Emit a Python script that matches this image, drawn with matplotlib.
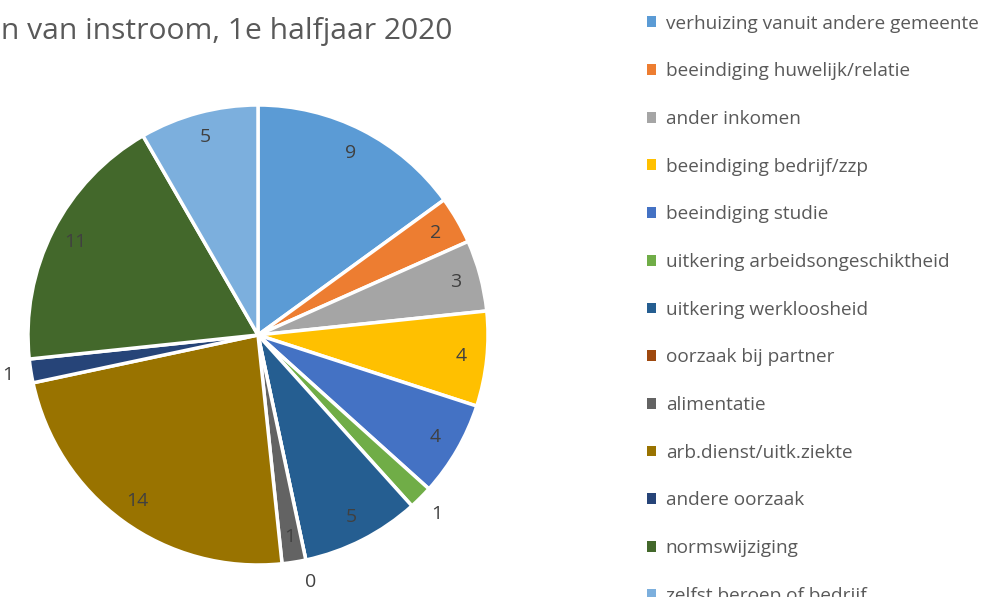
import numpy as np
import matplotlib
matplotlib.use("Agg")
import matplotlib.pyplot as plt
from matplotlib.patches import Patch

categories = [
    "verhuizing vanuit andere gemeente",
    "beeindiging huwelijk/relatie",
    "ander inkomen",
    "beeindiging bedrijf/zzp",
    "beeindiging studie",
    "uitkering arbeidsongeschiktheid",
    "uitkering werkloosheid",
    "oorzaak bij partner",
    "alimentatie",
    "arb.dienst/uitk.ziekte",
    "andere oorzaak",
    "normswijziging",
    "zelfst beroep of bedrijf",
]
values = [9, 2, 3, 4, 4, 1, 5, 0, 1, 14, 1, 11, 5]
colors = ["#5B9BD5", "#ED7D31", "#A5A5A5", "#FFC000", "#4472C4", "#70AD47",
          "#255E91", "#9E480E", "#636363", "#997300", "#264478", "#43682B",
          "#7CAFDD"]
outside = [False, False, False, False, False, True,
           False, True, False, False, True, False, False]
title = "Redenen van instroom, 1e halfjaar 2020"

plt.rcParams['font.family'] = ['Open Sans', 'DejaVu Sans']
W, H = 996, 597
fig = plt.figure(figsize=(W / 100, H / 100), dpi=100)
cx, cy, R = 258, 335, 230
ax = fig.add_axes([(cx - R) / W, (H - cy - R) / H, 2 * R / W, 2 * R / H])
wedges, _ = ax.pie(values, colors=colors, startangle=90, counterclock=False,
                   radius=1.0,
                   wedgeprops=dict(edgecolor="white", linewidth=2.5))
ax.set_xlim(-1, 1)
ax.set_ylim(-1, 1)
ax.set_aspect("equal")
ax.axis("off")

for w, v, out in zip(wedges, values, outside):
    ang = np.deg2rad((w.theta1 + w.theta2) / 2)
    r = 1.1 if out else 0.89
    ax.text(r * np.cos(ang), r * np.sin(ang), str(v), ha="center", va="center",
            fontsize=14, color="#404040", clip_on=False)

fig.text(452 / W, 1 - 31 / H, title, ha="right", va="center",
         fontsize=21.6, color="#595959")

handles = [Patch(facecolor=c, edgecolor="none") for c in colors]
leg = fig.legend(handles, categories, loc="upper left",
                 bbox_to_anchor=(639 / W, 1 - 7 / H),
                 frameon=False, fontsize=13.7, labelcolor="#595959",
                 handlelength=0.5, handleheight=0.5, handletextpad=0.5,
                 labelspacing=1.56, borderaxespad=0)

fig.savefig("out.png", dpi=100)
